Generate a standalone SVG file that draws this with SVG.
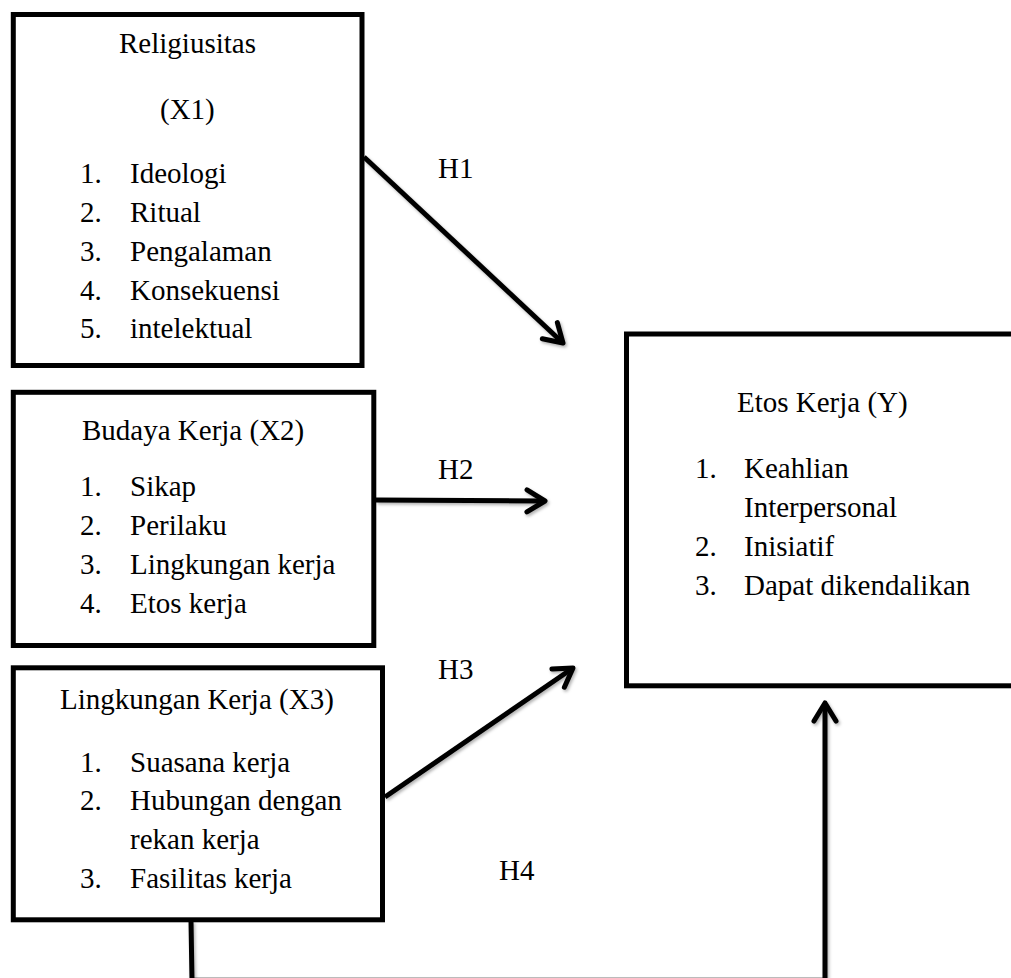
<svg xmlns="http://www.w3.org/2000/svg" width="1011" height="978" viewBox="0 0 1011 978">
  <style>
    .box { fill: #ffffff; stroke: #000000; stroke-width: 5; }
    .t { font-family: "Liberation Serif", "Times New Roman", serif; font-size: 29px; fill: #000000; }
    .conn { fill: none; stroke: #000000; stroke-width: 5; stroke-linejoin: miter; }
  </style>
  <defs>
    <marker id="arrow" markerUnits="userSpaceOnUse" viewBox="-25 -15 30 30" refX="0" refY="0" markerWidth="30" markerHeight="30" orient="auto" overflow="visible">
      <path d="M -18 -11 L 0 0 L -18 11" fill="none" stroke="#000000" stroke-width="5" stroke-linecap="round" stroke-linejoin="round"/>
    </marker>
    <filter id="shadow" x="-20%" y="-20%" width="140%" height="140%">
      <feDropShadow dx="1.5" dy="2" stdDeviation="1.5" flood-color="#000000" flood-opacity="0.3"/>
    </filter>
  </defs>
  <rect width="1011" height="978" fill="#ffffff"/>

  <g id="connectors" filter="url(#shadow)">
    <line id="h1" class="conn" x1="364" y1="157" x2="563" y2="343" marker-end="url(#arrow)"/>
    <line id="h2" class="conn" x1="376" y1="500" x2="545" y2="501" marker-end="url(#arrow)"/>
    <line id="h3" class="conn" x1="385" y1="797" x2="573" y2="668" marker-end="url(#arrow)"/>
    <path id="h4" class="conn" d="M 191 921 L 192 980.3 L 825 980.3 L 825 703" marker-end="url(#arrow)"/>
  </g>

  <g id="labels">
    <text class="t" x="438" y="178">H1</text>
    <text class="t" x="438" y="479">H2</text>
    <text class="t" x="438" y="679">H3</text>
    <text class="t" x="499" y="880">H4</text>
  </g>

  <g id="node-x1">
    <rect class="box" x="13.3" y="14.5" width="348.7" height="351"/>
    <text class="t" x="119" y="53">Religiusitas</text>
    <text class="t" x="160" y="119">(X1)</text>
    <text class="t" x="80" y="183">1.</text><text class="t" x="130" y="183">Ideologi</text>
    <text class="t" x="80" y="222">2.</text><text class="t" x="130" y="222">Ritual</text>
    <text class="t" x="80" y="261">3.</text><text class="t" x="130" y="261">Pengalaman</text>
    <text class="t" x="80" y="300">4.</text><text class="t" x="130" y="300">Konsekuensi</text>
    <text class="t" x="80" y="338">5.</text><text class="t" x="130" y="338">intelektual</text>
  </g>

  <g id="node-x2">
    <rect class="box" x="13.3" y="392.3" width="360.5" height="253.2"/>
    <text class="t" x="82" y="440">Budaya Kerja (X2)</text>
    <text class="t" x="80" y="496">1.</text><text class="t" x="130" y="496">Sikap</text>
    <text class="t" x="80" y="535">2.</text><text class="t" x="130" y="535">Perilaku</text>
    <text class="t" x="80" y="574">3.</text><text class="t" x="130" y="574">Lingkungan kerja</text>
    <text class="t" x="80" y="613">4.</text><text class="t" x="130" y="613">Etos kerja</text>
  </g>

  <g id="node-x3">
    <rect class="box" x="13.3" y="667.8" width="369.2" height="252"/>
    <text class="t" x="60" y="709">Lingkungan Kerja (X3)</text>
    <text class="t" x="80" y="772">1.</text><text class="t" x="130" y="772">Suasana kerja</text>
    <text class="t" x="80" y="810">2.</text><text class="t" x="130" y="810">Hubungan dengan</text>
    <text class="t" x="130" y="849">rekan kerja</text>
    <text class="t" x="80" y="888">3.</text><text class="t" x="130" y="888">Fasilitas kerja</text>
  </g>

  <g id="node-y">
    <rect class="box" x="626.5" y="334" width="400" height="351.8"/>
    <text class="t" x="737" y="412">Etos Kerja (Y)</text>
    <text class="t" x="695" y="478">1.</text><text class="t" x="744" y="478">Keahlian</text>
    <text class="t" x="744" y="517">Interpersonal</text>
    <text class="t" x="695" y="556">2.</text><text class="t" x="744" y="556">Inisiatif</text>
    <text class="t" x="695" y="595">3.</text><text class="t" x="744" y="595">Dapat dikendalikan</text>
  </g>
</svg>
